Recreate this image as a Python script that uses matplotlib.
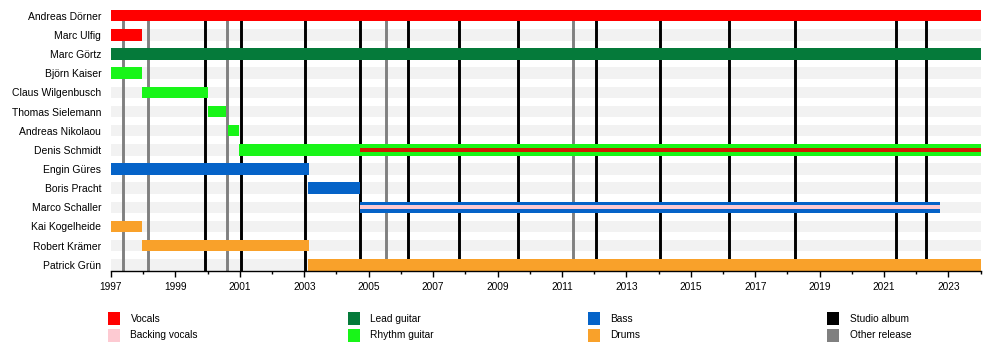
import matplotlib
matplotlib.use("Agg")
import matplotlib.pyplot as plt
from matplotlib.patches import Rectangle
from matplotlib.ticker import MultipleLocator

plt.rcParams['font.family'] = ['Liberation Sans', 'DejaVu Sans']

# ---------------- data ----------------
XMIN, XMAX = 1997.0, 2024.0

members = ["Andreas Dörner", "Marc Ulfig", "Marc Görtz", "Björn Kaiser",
           "Claus Wilgenbusch", "Thomas Sielemann", "Andreas Nikolaou",
           "Denis Schmidt", "Engin Güres", "Boris Pracht", "Marco Schaller",
           "Kai Kogelheide", "Robert Krämer", "Patrick Grün"]

# main role periods
seg_member = ["Andreas Dörner", "Marc Ulfig", "Marc Görtz", "Björn Kaiser",
              "Claus Wilgenbusch", "Thomas Sielemann", "Andreas Nikolaou",
              "Denis Schmidt", "Engin Güres", "Boris Pracht", "Marco Schaller",
              "Kai Kogelheide", "Robert Krämer", "Patrick Grün"]
seg_start = [1997.0, 1997.0, 1997.0, 1997.0, 1997.97, 2000.0, 2000.62,
             2000.97, 1997.0, 2003.12, 2004.74, 1997.0, 1997.97, 2003.12]
seg_end = [XMAX, 1997.97, XMAX, 1997.97, 2000.0, 2000.58, 2000.97,
           XMAX, 2003.14, 2004.74, 2022.75, 1997.97, 2003.14, XMAX]
seg_role = ["Vocals", "Vocals", "Lead guitar", "Rhythm guitar", "Rhythm guitar",
            "Rhythm guitar", "Rhythm guitar", "Rhythm guitar", "Bass", "Bass",
            "Bass", "Drums", "Drums", "Drums"]

# secondary role periods (thin overlay)
ov_member = ["Denis Schmidt", "Marco Schaller"]
ov_start = [2004.74, 2004.74]
ov_end = [XMAX, 2022.75]
ov_role = ["Vocals (secondary)", "Backing vocals"]

studio_albums = [1999.93, 2001.05, 2003.02, 2004.74, 2006.23, 2007.79, 2009.62,
                 2012.07, 2014.03, 2016.20, 2018.25, 2021.36, 2022.29]
other_releases = [1997.38, 1998.16, 2000.59, 2005.54, 2011.33]

role_colors = {
    "Vocals": "#ff0000",
    "Vocals (secondary)": "#cc1e00",
    "Backing vocals": "#fdcad2",
    "Lead guitar": "#057a3a",
    "Rhythm guitar": "#18f518",
    "Bass": "#0563c8",
    "Drums": "#f9a12a",
    "Studio album": "#000000",
    "Other release": "#808080",
}
legend_cols = [["Vocals", "Backing vocals"], ["Lead guitar", "Rhythm guitar"],
               ["Bass", "Drums"], ["Studio album", "Other release"]]

# ---------------- figure ----------------
W, H = 1000, 360
fig = plt.figure(figsize=(W / 100, H / 100), dpi=100)
ax = fig.add_axes([111 / W, 1 - 270.5 / H, (980.7 - 111) / W, 260.5 / H])

rows = {m: i for i, m in enumerate(members)}
BAR_H = 0.6
OV_H = 0.23

# background stripes
ax.barh(range(len(members)), XMAX - XMIN, left=XMIN, height=BAR_H,
        color="#f2f2f2", zorder=0)

# release lines
for x in studio_albums:
    ax.axvline(x, color=role_colors["Studio album"], lw=2.1, zorder=1)
for x in other_releases:
    ax.axvline(x, color=role_colors["Other release"], lw=2.1, zorder=1)

# main bars
for m, s, e, r in zip(seg_member, seg_start, seg_end, seg_role):
    ax.barh(rows[m], e - s, left=s, height=BAR_H, color=role_colors[r],
            zorder=2, linewidth=0)
# overlays
for m, s, e, r in zip(ov_member, ov_start, ov_end, ov_role):
    ax.barh(rows[m], e - s, left=s, height=OV_H, color=role_colors[r],
            zorder=3, linewidth=0)

ax.set_xlim(XMIN, XMAX)
ax.set_ylim(len(members) - 1 + BAR_H / 2, -BAR_H / 2)
ax.set_yticks(range(len(members)))
ax.set_yticklabels(members, fontsize=7.5)
ax.tick_params(axis="y", left=False, length=0, pad=7)

ax.xaxis.set_major_locator(MultipleLocator(2, offset=1))
ax.xaxis.set_minor_locator(MultipleLocator(1))
ax.tick_params(axis="x", which="major", length=4, width=1, labelsize=7.3, pad=4)
ax.tick_params(axis="x", which="minor", length=2.5, width=1)
ax.xaxis.set_major_formatter(matplotlib.ticker.FuncFormatter(lambda v, p: f"{int(round(v))}"))

for sp in ["top", "right", "left"]:
    ax.spines[sp].set_visible(False)
ax.spines["bottom"].set_linewidth(1.0)
ax.spines["bottom"].set_zorder(5)

# legend (manual, four columns)
col_x = [108, 348, 588, 827]
row_y = [318.7, 335.3]
pw, ph = 12, 12.5
for cx, items in zip(col_x, legend_cols):
    for ry, label in zip(row_y, items):
        fig.add_artist(Rectangle((cx / W, 1 - (ry + ph / 2) / H), pw / W, ph / H,
                                 transform=fig.transFigure,
                                 facecolor=role_colors[label], edgecolor="none"))
        fig.text((cx + 22.5) / W, 1 - ry / H, label, fontsize=7.3,
                 va="center", ha="left")

fig.savefig("out.png", dpi=100)
